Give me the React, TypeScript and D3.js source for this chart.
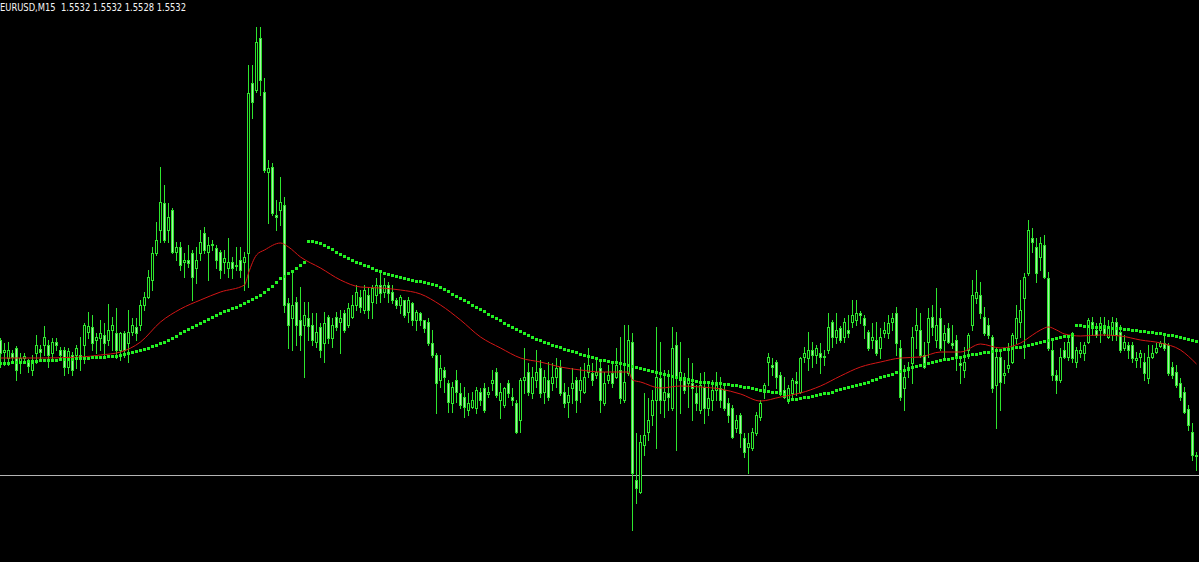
import React from 'react';
import * as d3 from 'd3';

const W = 1199;
const H = 562;

// Prices are stored as offsets in 0.2-pip steps above BASE_PRICE
const BASE_PRICE = 1.5467;
const STEP = 0.00002;

const symbolLabel = 'EURUSD,M15';
const headerValues = ['1.5532', '1.5532', '1.5528', '1.5532'];
const hLinePrice = 1.5528;

const openPts = [
  440,428,422,427,432,417,422,419,410,427,
  431,435,435,427,438,430,430,413,425,425,
  425,435,448,453,440,442,445,440,450,447,
  430,447,437,448,453,455,475,483,500,527,
  550,577,550,570,528,533,518,520,527,512,
  527,547,528,535,532,528,518,512,518,514,
  520,518,527,697,690,742,688,608,613,565,
  570,575,477,462,478,460,455,462,455,438,
  453,437,463,442,463,458,467,455,463,475,
  483,470,485,478,485,495,488,495,488,480,
  475,480,468,477,460,467,460,458,437,425,
  400,410,397,377,400,387,383,370,373,372,
  388,392,386,397,408,380,375,397,383,377,
  360,400,408,387,400,412,388,400,397,403,
  413,388,378,392,400,390,388,408,407,405,
  412,377,400,407,403,410,380,407,438,300,
  288,335,348,365,380,402,380,387,372,435,
  400,403,397,397,387,370,393,372,380,390,
  392,390,377,372,352,365,342,333,332,347,
  363,388,418,415,418,405,390,380,387,399,
  388,423,422,430,425,427,423,430,458,443,
  452,443,450,458,460,467,462,448,440,440,
  432,447,447,458,467,432,392,410,417,450,
  450,425,438,463,440,462,440,452,437,440,
  417,410,430,455,482,485,463,455,443,395,
  423,405,412,418,442,458,482,507,542,533,
  523,535,502,430,405,400,430,423,447,418,
  427,427,438,458,450,450,455,443,445,458,
  448,432,435,435,420,423,418,402,423,428,
  434,437,435,413,408,397,388,371,348,324,
];

const highPts = [
  442,437,438,430,434,427,427,421,425,445,
  435,454,440,442,442,433,433,432,428,435,
  443,457,468,465,447,460,457,476,463,472,
  448,449,470,462,462,480,488,510,533,558,
  613,595,577,572,538,538,527,535,530,533,
  550,553,543,540,535,530,530,542,523,533,
  533,528,715,715,753,753,702,620,617,580,
  603,583,482,507,483,493,478,478,467,467,
  457,468,465,462,468,470,470,477,485,495,
  490,495,492,495,502,508,502,498,495,482,
  485,480,483,478,470,468,460,462,450,427,
  425,413,400,398,410,397,393,387,388,393,
  392,397,393,410,412,397,393,400,392,380,
  402,432,417,413,430,420,410,418,417,422,
  420,397,393,412,403,413,417,432,417,420,
  418,408,415,418,432,443,455,455,447,347,
  345,387,382,390,453,438,410,410,453,448,
  438,407,422,417,395,407,408,397,400,408,
  403,397,382,375,365,367,347,347,352,368,
  380,397,427,422,420,408,403,395,402,408,
  423,433,448,438,435,437,430,467,460,467,
  454,462,465,480,480,469,465,450,457,458,
  452,458,465,467,473,440,415,418,453,472,
  467,438,472,475,492,472,455,457,455,445,
  423,433,447,500,510,498,473,462,445,433,
  430,420,437,447,475,500,507,560,552,542,
  543,545,508,442,410,432,438,442,448,433,
  438,438,462,463,457,463,463,460,463,462,
  455,445,438,438,428,430,427,435,435,437,
  439,447,437,418,415,402,393,375,357,328,
];

const lowPts = [
  413,415,415,418,400,407,419,408,405,417,
  422,425,413,422,430,422,405,407,405,412,
  410,417,442,430,427,430,422,435,430,422,
  420,423,418,445,440,450,470,482,490,525,
  538,538,538,527,520,510,503,513,480,497,
  520,527,500,530,512,502,507,503,502,510,
  503,490,493,662,688,685,608,557,565,550,
  555,468,432,430,435,430,403,440,435,433,
  423,418,437,433,450,427,448,453,462,470,
  468,467,462,462,477,478,483,478,477,472,
  467,463,458,455,450,455,448,435,423,367,
  393,388,368,368,378,372,363,365,372,367,
  375,368,383,390,383,362,373,383,375,347,
  348,387,385,382,393,383,377,380,390,393,
  385,373,363,377,368,378,387,403,395,402,
  368,375,397,393,402,377,378,405,250,277,
  287,325,340,355,332,367,363,370,370,330,
  367,387,373,360,370,367,357,365,370,380,
  373,370,358,342,348,333,323,307,330,345,
  360,382,395,405,392,385,382,377,383,385,
  387,418,410,413,417,407,415,427,433,437,
  438,438,443,453,455,457,442,430,432,425,
  422,443,442,450,425,380,370,403,397,432,
  423,412,423,445,433,430,423,437,432,410,
  397,403,422,450,477,462,445,442,388,352,
  370,397,408,417,437,443,422,505,528,498,
  510,502,430,400,387,398,422,420,418,413,
  423,420,437,445,443,438,445,442,440,440,
  428,430,422,418,413,413,400,397,422,427,
  433,430,405,402,393,380,367,350,320,310,
];

const closePts = [
  427,430,430,423,410,422,424,414,417,435,
  428,443,425,438,435,425,413,429,410,432,
  423,455,454,437,443,447,437,450,455,430,
  447,430,448,455,447,475,483,503,527,540,
  578,540,563,528,533,515,520,517,503,520,
  538,530,535,536,520,510,522,518,512,515,
  510,523,687,678,738,700,610,612,567,563,
  578,475,455,475,455,445,465,454,440,448,
  430,457,442,455,453,462,450,472,475,488,
  473,490,470,492,495,487,495,487,480,475,
  483,465,480,460,468,460,452,437,425,397,
  412,403,378,393,388,375,373,377,380,390,
  380,370,388,400,385,388,392,387,380,348,
  400,403,388,403,408,387,403,383,403,412,
  387,377,385,397,380,400,403,415,400,408,
  380,397,405,397,415,382,398,440,307,292,
  338,345,360,380,403,380,388,383,432,403,
  408,390,402,392,377,395,372,382,390,395,
  380,372,365,343,360,347,328,337,348,365,
  377,395,423,413,403,388,383,392,400,397,
  422,427,430,425,432,423,424,453,443,450,
  440,458,447,465,467,465,455,432,443,427,
  443,450,457,462,437,383,403,413,443,455,
  425,413,462,453,455,432,447,438,435,423,
  415,418,445,485,488,467,447,445,392,423,
  398,407,415,445,462,470,503,550,538,507,
  537,503,432,405,400,423,423,438,422,430,
  430,435,460,452,445,457,447,453,458,445,
  430,438,430,422,422,427,407,423,427,432,
  437,432,407,405,395,383,368,355,325,325,
];

// Slow moving average (dotted green), one value per bar
const slowMaPts = [
  417,417,417,418,418,418,418,419,419,419,420,
  420,420,420,420,421,421,421,421,422,422,
  422,422,423,423,423,423,424,424,424,425,
  426,427,428,429,430,
  431,432,434,435,437,
  438,440,442,444,447,
  449,451,453,455,457,
  459,461,463,465,467,
  469,470,472,473,475,
  477,479,481,483,485,
  488,491,494,498,502,
  504,507,509,512,515,518,
  539,539,538,537,535,533,531,528,526,524,522,520,518,517,515,514,512,510,509,507,506,505,504,503,502,501,500,499,499,498,497,496,495,493,
  491,489,486,484,482,480,478,475,473,471,469,466,464,462,460,457,455,453,451,449,447,445,443,441,440,438,437,435,434,433,431,430,429,428,426,425,424,423,422,420,
  420,419,418,418,417,416,415,414,413,412,411,410,409,408,407,406,405,404,403,402,401,401,400,399,398,398,398,397,397,397,396,396,395,395,394,393,393,392,391,390,390,389,388,388,387,386,
  380,381,381,382,383,383,384,385,386,387,387,388,390,391,392,393,394,395,396,397,398,400,401,403,404,405,406,408,409,410,411,413,414,415,416,417,418,419,420,421,421,422,423,423,424,425,426,426,427,428,428,429,430,430,431,431,432,433,433,434,435,436,437,438,439,440,441,442,443,444,444,445,
  455,455,454,454,454,453,453,453,453,452,452,452,451,451,450,450,449,449,448,448,447,447,446,445,445,444,443,442,441,440,439,
];

// Fast moving average (red line), read at these bar indices
const fastMaIdx = [
  0,10,20,25,30,35,40,45,50,55,61,62,64,66,70,72,75,80,85,90,95,100,105,110,115,120,125,130,135,140,145,150,157,158,160,165,170,175,180,185,190,195,200,205,210,215,220,225,230,235,240,245,250,255,258,260,262,264,266,270,275,280,285,290,295,299,
];
const fastMaPts = [
  422,422,423,425,428,438,458,471,480,488,495,507,525,530,537,533,523,512,500,493,492,490,486,475,460,443,432,422,418,413,410,408,408,400,398,392,394,393,391,386,379,383,387,394,404,413,418,422,423,428,428,436,432,437,445,450,453,450,446,444,445,444,440,437,430,416,
];

const toPrice = (v: number) => BASE_PRICE + v * STEP;

const WICK = '#2ee62e';
const BEAR_FILL = '#a8f0a8';
const DOT = '#22f022';
const RED = '#d41616';

export default function App() {
  const n = Math.min(openPts.length, highPts.length, lowPts.length, closePts.length);
  const bars = d3.range(n).map((i) => {
    const o = toPrice(openPts[i]);
    const c = toPrice(closePts[i]);
    return {
      i,
      o,
      c,
      h: Math.max(toPrice(highPts[i]), o, c),
      l: Math.min(toPrice(lowPts[i]), o, c),
    };
  });

  const x = d3.scaleLinear().domain([0, n - 1]).range([0, 4 * (n - 1)]);
  const y = d3.scaleLinear().domain([toPrice(218), toPrice(780)]).range([H, 0]);
  const py = (p: number) => Math.round(y(p));

  const redLine = d3
    .line<number>()
    .x((_, k) => x(fastMaIdx[k]) + 0.5)
    .y((v) => y(toPrice(v)))
    .curve(d3.curveMonotoneX)(fastMaPts);

  const hy = py(hLinePrice) + 0.5;
  const header = `${symbolLabel}  ${headerValues.join(' ')}`;

  return (
    <svg
      width={W}
      height={H}
      style={{ position: 'fixed', left: 0, top: 0, display: 'block', background: '#000' }}
    >
      <rect x={0} y={0} width={W} height={H} fill="#000" />
      <line x1={0} x2={W} y1={hy} y2={hy} stroke="#b4b4b4" strokeWidth={1} shapeRendering="crispEdges" />
      <g shapeRendering="crispEdges">
        {bars.map((b) => {
          const cx = Math.round(x(b.i));
          const yh = py(b.h);
          const yl = py(b.l);
          return <rect key={'w' + b.i} x={cx} y={yh} width={1} height={Math.max(1, yl - yh + 1)} fill={WICK} />;
        })}
        {bars.map((b) => {
          const cx = Math.round(x(b.i));
          const top = py(Math.max(b.o, b.c));
          const bot = py(Math.min(b.o, b.c));
          const hgt = Math.max(1, bot - top + 1);
          const bull = b.c >= b.o;
          return (
            <g key={'b' + b.i}>
              <rect x={cx - 1} y={top} width={3} height={hgt} fill={WICK} />
              {hgt > 2 && (
                <rect x={cx} y={top + 1} width={1} height={hgt - 2} fill={bull ? '#000' : BEAR_FILL} />
              )}
            </g>
          );
        })}
      </g>
      <path d={redLine || ''} fill="none" stroke={RED} strokeWidth={1} />
      <g shapeRendering="crispEdges">
        {slowMaPts.slice(0, n).map((v, i) => (
          <rect key={'d' + i} x={Math.round(x(i)) - 1} y={py(toPrice(v)) - 1} width={3} height={3} fill={DOT} />
        ))}
      </g>
      <text
        x={0}
        y={11}
        fontFamily="'DejaVu Sans', 'Liberation Sans', sans-serif"
        fontSize={10.5}
        fill="#f4f4f4"
        textLength={186}
        lengthAdjust="spacingAndGlyphs"
        style={{ whiteSpace: 'pre' }}
      >
        {header}
      </text>
    </svg>
  );
}
